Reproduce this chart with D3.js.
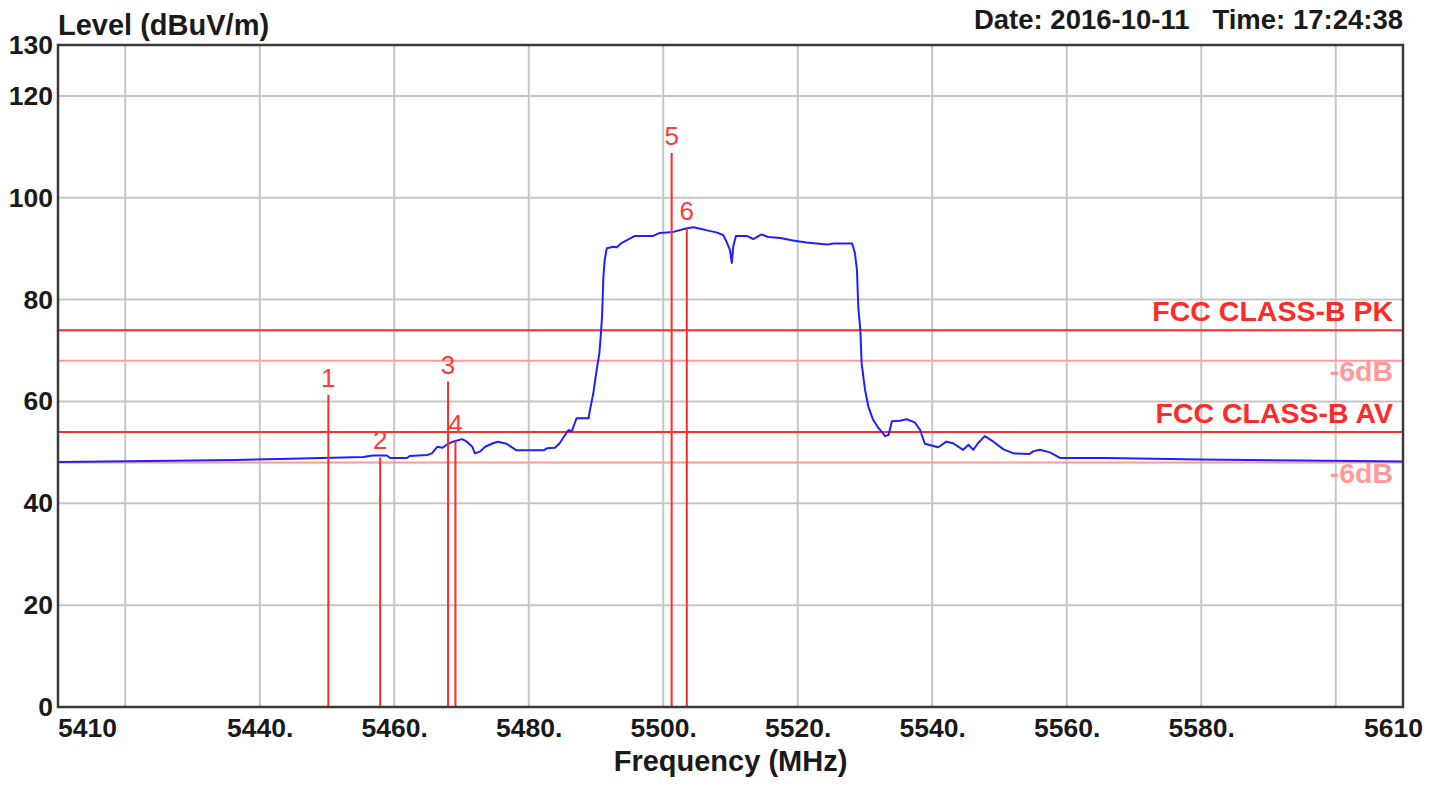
<!DOCTYPE html>
<html>
<head>
<meta charset="utf-8">
<script src="https://cdn.jsdelivr.net/npm/d3@7"></script>
<style>
  html, body { margin: 0; padding: 0; background: #ffffff; }
  svg { display: block; }
  text { font-family: "Liberation Sans", Arial, sans-serif; }
</style>
</head>
<body>
<svg id="chart" width="1430" height="786"></svg>
<script>
// ---------- data ----------
const traceFreq = [5410.0, 5423.7, 5436.3, 5443.0, 5455.4, 5456.8, 5458.9, 5459.4, 5461.9, 5462.3, 5464.9, 5465.6, 5466.4, 5467.2, 5467.8, 5468.7, 5470.1, 5470.8, 5471.6, 5472.0, 5472.8, 5473.5, 5474.7, 5475.4, 5476.7, 5477.5, 5478.2, 5482.2, 5482.7, 5483.9, 5484.6, 5485.4, 5485.9, 5486.4, 5487.1, 5488.9, 5489.1, 5489.6, 5490.1, 5490.5, 5490.7, 5490.9, 5491.1, 5491.3, 5491.6, 5492.6, 5493.1, 5493.8, 5494.6, 5495.8, 5498.5, 5499.5, 5501.5, 5503.5, 5504.5, 5505.5, 5506.5, 5507.9, 5508.9, 5509.4, 5509.9, 5510.2, 5510.4, 5510.8, 5512.4, 5513.4, 5514.6, 5515.6, 5517.4, 5519.3, 5521.3, 5524.3, 5525.3, 5528.1, 5528.5, 5528.8, 5529.0, 5529.3, 5529.5, 5530.0, 5530.5, 5531.2, 5532.0, 5533.0, 5533.5, 5534.0, 5535.2, 5536.2, 5537.4, 5538.2, 5538.9, 5540.9, 5542.1, 5543.1, 5544.6, 5545.4, 5546.1, 5546.8, 5547.8, 5549.1, 5550.6, 5552.1, 5554.5, 5555.0, 5556.0, 5557.5, 5559.0, 5565.9, 5579.8, 5594.7, 5610.0];
const traceLevel = [48.1, 48.3, 48.5, 48.7, 49.1, 49.4, 49.4, 48.9, 48.9, 49.3, 49.5, 49.8, 51.1, 50.9, 51.5, 52.1, 52.6, 52.1, 51.1, 49.8, 50.2, 51.1, 51.8, 52.1, 51.7, 51.0, 50.4, 50.4, 50.8, 50.9, 51.8, 53.4, 54.4, 54.1, 56.7, 56.7, 58.3, 61.6, 66.2, 69.5, 72.8, 76.7, 84.5, 87.8, 90.1, 90.4, 90.3, 91.1, 91.7, 92.5, 92.5, 93.1, 93.3, 94.0, 94.2, 93.9, 93.6, 93.2, 92.7, 91.4, 89.8, 87.2, 90.4, 92.5, 92.5, 91.9, 92.8, 92.3, 92.1, 91.6, 91.2, 90.8, 91.0, 91.0, 89.1, 85.9, 78.6, 74.1, 67.5, 62.3, 59.0, 56.4, 54.8, 53.2, 53.4, 56.1, 56.2, 56.5, 55.9, 54.4, 51.7, 51.0, 52.1, 51.8, 50.5, 51.5, 50.5, 51.8, 53.2, 52.1, 50.6, 49.8, 49.7, 50.2, 50.5, 50.0, 48.9, 48.9, 48.6, 48.4, 48.2];

const markerIds    = ["1", "2", "3", "4", "5", "6"];
const markerFreq   = [5450.2, 5457.9, 5468.0, 5469.1, 5501.25, 5503.5];
const markerLevel  = [61.3, 49.0, 63.9, 52.3, 108.8, 94.0];

const limitNames   = ["FCC CLASS-B PK", "-6dB", "FCC CLASS-B AV", "-6dB"];
const limitLevels  = [74, 68, 54, 48];
const limitIsMargin = [false, true, false, true];

const xDomain = [5410, 5610];
const yDomain = [0, 130];
const xGrid = [5420, 5440, 5460, 5480, 5500, 5520, 5540, 5560, 5580, 5600];
const yGrid = [20, 40, 60, 80, 100, 120];
const xTickValues = [5440, 5460, 5480, 5500, 5520, 5540, 5560, 5580];
const xEndLabels = ["5410", "5610"];
const yTickValues = [0, 20, 40, 60, 80, 100, 120, 130];

const yTitle = "Level (dBuV/m)";
const xTitle = "Frequency (MHz)";
const stamp = "Date: 2016-10-11   Time: 17:24:38";

// ---------- layout ----------
const W = 1430, H = 786;
const M = { left: 58, right: 27, top: 45, bottom: 79 };
const svg = d3.select("#chart");

const x = d3.scaleLinear().domain(xDomain).range([M.left, W - M.right]);
const y = d3.scaleLinear().domain(yDomain).range([H - M.bottom, M.top]);

const RED = "#ff2a2a";
const PINK = "#ff9a9a";
const INK = "#1a1a1a";

// grid
svg.append("g").selectAll("line").data(xGrid).join("line")
  .attr("x1", d => x(d)).attr("x2", d => x(d))
  .attr("y1", y(yDomain[0])).attr("y2", y(yDomain[1]))
  .attr("stroke", "#c6c6c6").attr("stroke-width", 2);
svg.append("g").selectAll("line").data(yGrid).join("line")
  .attr("x1", x(xDomain[0])).attr("x2", x(xDomain[1]))
  .attr("y1", d => y(d)).attr("y2", d => y(d))
  .attr("stroke", "#c6c6c6").attr("stroke-width", 2);

// limit lines
const limits = limitLevels.map((v, i) => ({ v, name: limitNames[i], margin: limitIsMargin[i] }));
svg.append("g").selectAll("line").data(limits).join("line")
  .attr("x1", x(xDomain[0])).attr("x2", x(xDomain[1]))
  .attr("y1", d => y(d.v)).attr("y2", d => y(d.v))
  .attr("stroke", d => d.margin ? PINK : RED).attr("stroke-width", 2);
svg.append("g").selectAll("text").data(limits).join("text")
  .attr("x", x(xDomain[1]) - 10)
  .attr("y", d => d.margin ? y(d.v) + 20 : y(d.v) - 9)
  .attr("text-anchor", "end")
  .attr("font-size", 28.5).attr("font-weight", "bold")
  .attr("fill", d => d.margin ? PINK : RED)
  .text(d => d.name);

// trace
const trace = traceFreq.map((f, i) => [f, traceLevel[i]]);
svg.append("path").datum(trace)
  .attr("fill", "none").attr("stroke", "#1f1fff").attr("stroke-width", 2)
  .attr("stroke-linejoin", "round")
  .attr("d", d3.line().x(d => x(d[0])).y(d => y(d[1])).curve(d3.curveLinear));

// markers
const markers = markerIds.map((id, i) => ({ id, f: markerFreq[i], v: markerLevel[i] }));
svg.append("g").selectAll("line").data(markers).join("line")
  .attr("x1", d => x(d.f)).attr("x2", d => x(d.f))
  .attr("y1", y(0)).attr("y2", d => y(d.v))
  .attr("stroke", RED).attr("stroke-width", 2);
svg.append("g").selectAll("text").data(markers).join("text")
  .attr("x", d => x(d.f)).attr("y", d => y(d.v) - 8)
  .attr("text-anchor", "middle")
  .attr("font-size", 26).attr("fill", "#ff3a3a")
  .text(d => d.id);

// frame
svg.append("rect")
  .attr("x", x(xDomain[0])).attr("y", y(yDomain[1]))
  .attr("width", x(xDomain[1]) - x(xDomain[0]))
  .attr("height", y(yDomain[0]) - y(yDomain[1]))
  .attr("fill", "none").attr("stroke", "#3a3a3a").attr("stroke-width", 2.5);

// axes
const yAxis = d3.axisLeft(y).tickValues(yTickValues).tickSize(0).tickPadding(5)
  .tickFormat(d3.format("d"));
const gy = svg.append("g").attr("transform", `translate(${x(xDomain[0])},0)`).call(yAxis);
gy.select(".domain").remove();
gy.selectAll("text").attr("font-size", 26.5).attr("font-weight", "bold")
  .attr("fill", INK).attr("font-family", "Liberation Sans, Arial, sans-serif");

const xAxis = d3.axisBottom(x).tickValues(xTickValues).tickSize(0).tickPadding(0)
  .tickFormat(d => d + ".");
const gx = svg.append("g").attr("transform", `translate(0,${y(yDomain[0])})`).call(xAxis);
gx.select(".domain").remove();
gx.selectAll("text").attr("font-size", 26.5).attr("font-weight", "bold")
  .attr("fill", INK).attr("font-family", "Liberation Sans, Arial, sans-serif")
  .attr("dy", null).attr("y", 30);

svg.append("text").attr("x", x(xDomain[0])).attr("y", y(0) + 30)
  .attr("font-size", 26.5).attr("font-weight", "bold").attr("fill", INK)
  .text(xEndLabels[0]);
svg.append("text").attr("x", x(xDomain[1]) + 20).attr("y", y(0) + 30)
  .attr("text-anchor", "end")
  .attr("font-size", 26.5).attr("font-weight", "bold").attr("fill", INK)
  .text(xEndLabels[1]);

// titles
svg.append("text").attr("x", x(xDomain[0])).attr("y", 35)
  .attr("font-size", 29).attr("font-weight", "bold").attr("fill", INK)
  .text(yTitle);
svg.append("text").attr("x", (x(xDomain[0]) + x(xDomain[1])) / 2).attr("y", 771)
  .attr("text-anchor", "middle")
  .attr("font-size", 29).attr("font-weight", "bold").attr("fill", INK)
  .text(xTitle);
svg.append("text").attr("x", x(xDomain[1])).attr("y", 29)
  .attr("text-anchor", "end").style("white-space", "pre")
  .attr("font-size", 27.5).attr("font-weight", "bold").attr("fill", INK)
  .text(stamp);
</script>
</body>
</html>
